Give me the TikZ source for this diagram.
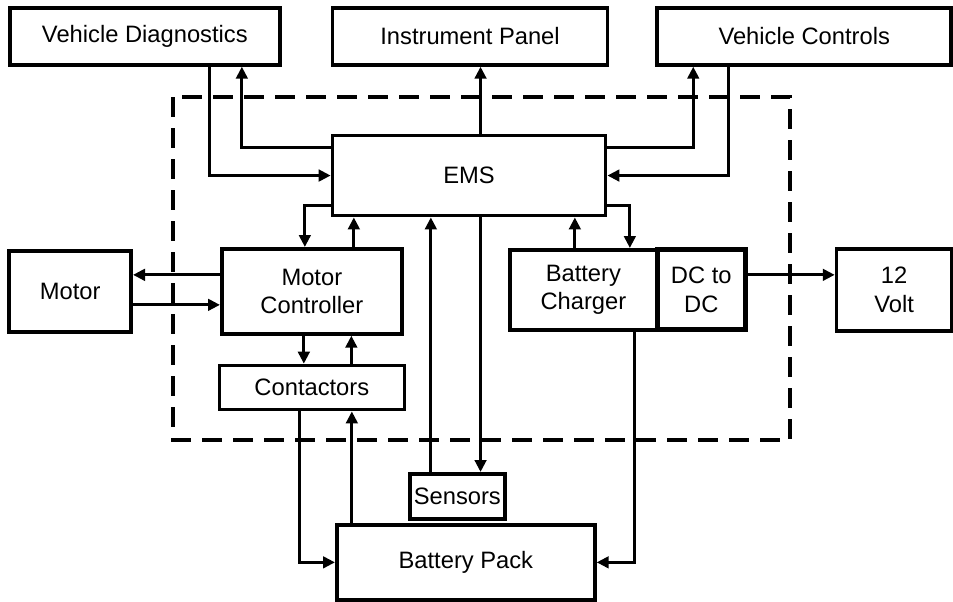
\documentclass[tikz,border=0pt]{standalone}
\usepackage{fontspec}
\setmainfont{Liberation Sans}
\usetikzlibrary{positioning,arrows.meta}

\begin{document}
\begin{tikzpicture}[
  x=0.2mm, y=-0.2mm,
  font=\fontsize{13.5}{16}\selectfont,
  >={Triangle[length=2.4mm,width=2.3mm]},
  box/.style={rectangle, draw, line width=2.1pt, fill=white, align=center, inner sep=1pt},
  flow/.style={->, line width=1.8pt},
  border/.style={line width=2.3pt, dash pattern=on 4mm off 2.2mm},
]
\useasboundingbox (0,0) rectangle (953,601);

% ---- ECU boundary ----
\draw[border] (173,97) rectangle (790,440);

% ---- Row 1: vehicle side ----
\node[box, anchor=north west, minimum width=54mm, minimum height=11.4mm] (diag) at (8,6) {Vehicle Diagnostics};
\node[box, right=9.8mm of diag, minimum width=55mm, minimum height=11.4mm] (panel) {Instrument Panel};
\node[box, right=9.2mm of panel, minimum width=58.8mm, minimum height=11.4mm] (ctrl) {Vehicle Controls};

% ---- Row 2: EMS ----
\node[box, below=13.4mm of panel.south west, anchor=north west, minimum width=54.6mm, minimum height=16mm] (ems) {EMS};

% ---- Row 3: drive and charging ----
\node[box, anchor=north west, minimum width=36mm, minimum height=17mm] (mc) at (220,247) {Motor\\Controller};
\node[box, left=17.4mm of mc, minimum width=24.4mm, minimum height=16.2mm] (motor) {Motor};
\node[box, below=5.6mm of mc, minimum width=37mm, minimum height=8.8mm] (cont) {Contactors};
\node[box, anchor=north west, minimum width=29.4mm, minimum height=16mm] (bc) at (508,248) {Battery\\Charger};
\node[box, right=-2.2pt of bc, line width=2.8pt, minimum width=17.6mm, minimum height=16mm] (dcdc) {DC to\\DC};
\node[box, right=17.4mm of dcdc, minimum width=23mm, minimum height=16.4mm] (volt) {12\\Volt};

% ---- Row 4: battery ----
\node[box, anchor=north west, inner sep=0pt, minimum width=19mm, minimum height=9mm] (sensors) at (408,472) {Sensors};
\node[box, anchor=north west, minimum width=51.6mm, minimum height=15mm] (pack) at (335,523) {Battery Pack};

% ---- arrows ----
\draw[flow] ([xshift=13mm]diag.south) |- (ems.west);
\draw[flow] ([yshift=5.6mm]ems.west) -| ([xshift=19.4mm]diag.south);
\draw[flow] ([xshift=2.3mm]ems.north) -- ([xshift=2.3mm]ems.north |- panel.south);
\draw[flow] ([yshift=5.6mm]ems.east) -| ([xshift=-22.2mm]ctrl.south);
\draw[flow] ([xshift=-15.2mm]ctrl.south) |- (ems.east);
\draw[flow] ([yshift=-6mm]ems.west) -| ([xshift=-1.4mm]mc.north);
\draw[flow] ([xshift=8.4mm]mc.north) -- ([xshift=8.4mm]mc.north |- ems.south);
\draw[flow] ([xshift=-5.3mm]sensors.north) -- ([xshift=-5.3mm]sensors.north |- ems.south);
\draw[flow] ([xshift=2.3mm]ems.south) -- ([xshift=2.3mm]ems.south |- sensors.north);
\draw[flow] ([xshift=-1.7mm]bc.north) -- ([xshift=-1.7mm]bc.north |- ems.south);
\draw[flow] ([yshift=-6mm]ems.east) -| ([xshift=9.3mm]bc.north);
\draw[flow] ([yshift=3.3mm]mc.west) -- ([yshift=3.3mm]mc.west -| motor.east);
\draw[flow] ([yshift=-2.7mm]motor.east) -- ([yshift=-2.7mm]motor.east -| mc.west);
\draw[flow] ([xshift=-1.6mm]mc.south) -- ([xshift=-1.6mm]mc.south |- cont.north);
\draw[flow] ([xshift=7.9mm]cont.north) -- ([xshift=7.9mm]cont.north |- mc.south);
\draw[flow] ([yshift=3mm]dcdc.east) -- ([yshift=3mm]dcdc.east -| volt.west);
\draw[flow] ([xshift=10.3mm]bc.south) |- (pack.east);
\draw[flow] ([xshift=-2.5mm]cont.south) |- (pack.west);
\draw[flow] ([xshift=-22.8mm]pack.north) -- ([xshift=-22.8mm]pack.north |- cont.south);

\end{tikzpicture}
\end{document}
